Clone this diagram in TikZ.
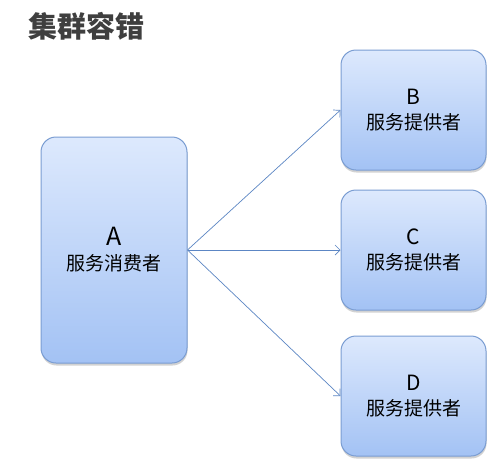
\documentclass[tikz,border=0pt]{standalone}
\usepackage{fontspec}
\setmainfont{Noto Sans CJK SC}
\usepackage{tikz}
\usetikzlibrary{arrows.meta, positioning, shadows}
\usepackage{xcolor}
\definecolor{BoxTop}{HTML}{DDE9FD}
\definecolor{BoxBot}{HTML}{A3C2F4}
\definecolor{BoxLine}{HTML}{7A9DD2}
\definecolor{Link}{HTML}{5C86C4}
\definecolor{TitleGray}{HTML}{3F3F3F}

\tikzset{
  svcbox/.style={draw=BoxLine, line width=1pt, rounded corners=15pt,
    top color=BoxTop, bottom color=BoxBot, align=center,
    font=\fontsize{19}{25}\selectfont,
    drop shadow={shadow xshift=0.5pt, shadow yshift=-2.5pt, opacity=0.35},
    minimum width=145pt, minimum height=120pt, inner sep=0pt},
  link/.style={->, Link, line width=0.7pt},
}

\begin{document}
\begin{tikzpicture}[x=1pt, y=-1pt, >={Straight Barb[length=5pt, width=10pt]}]
  \useasboundingbox[fill=white] (0,0) rectangle (496,464);
  \node[anchor=west, TitleGray, font=\fontsize{29}{32}\selectfont\bfseries] (title) at (25,26) {集群容错};
  % consumer
  \node[svcbox, minimum width=146pt, minimum height=226pt] (A) at (114,250)
    {{\fontsize{25}{25}\selectfont A}\\服务消费者};
  % providers
  \foreach \n/\y in {B/110, C/250, D/396} {
    \node[svcbox] (\n) at (413.5,\y)
      {{\fontsize{21}{25}\selectfont \n}\\服务提供者};
  }
  \foreach \n in {B, C, D} {
    \draw[link] (A.east) -- (\n.west);
  }
\end{tikzpicture}
\end{document}
